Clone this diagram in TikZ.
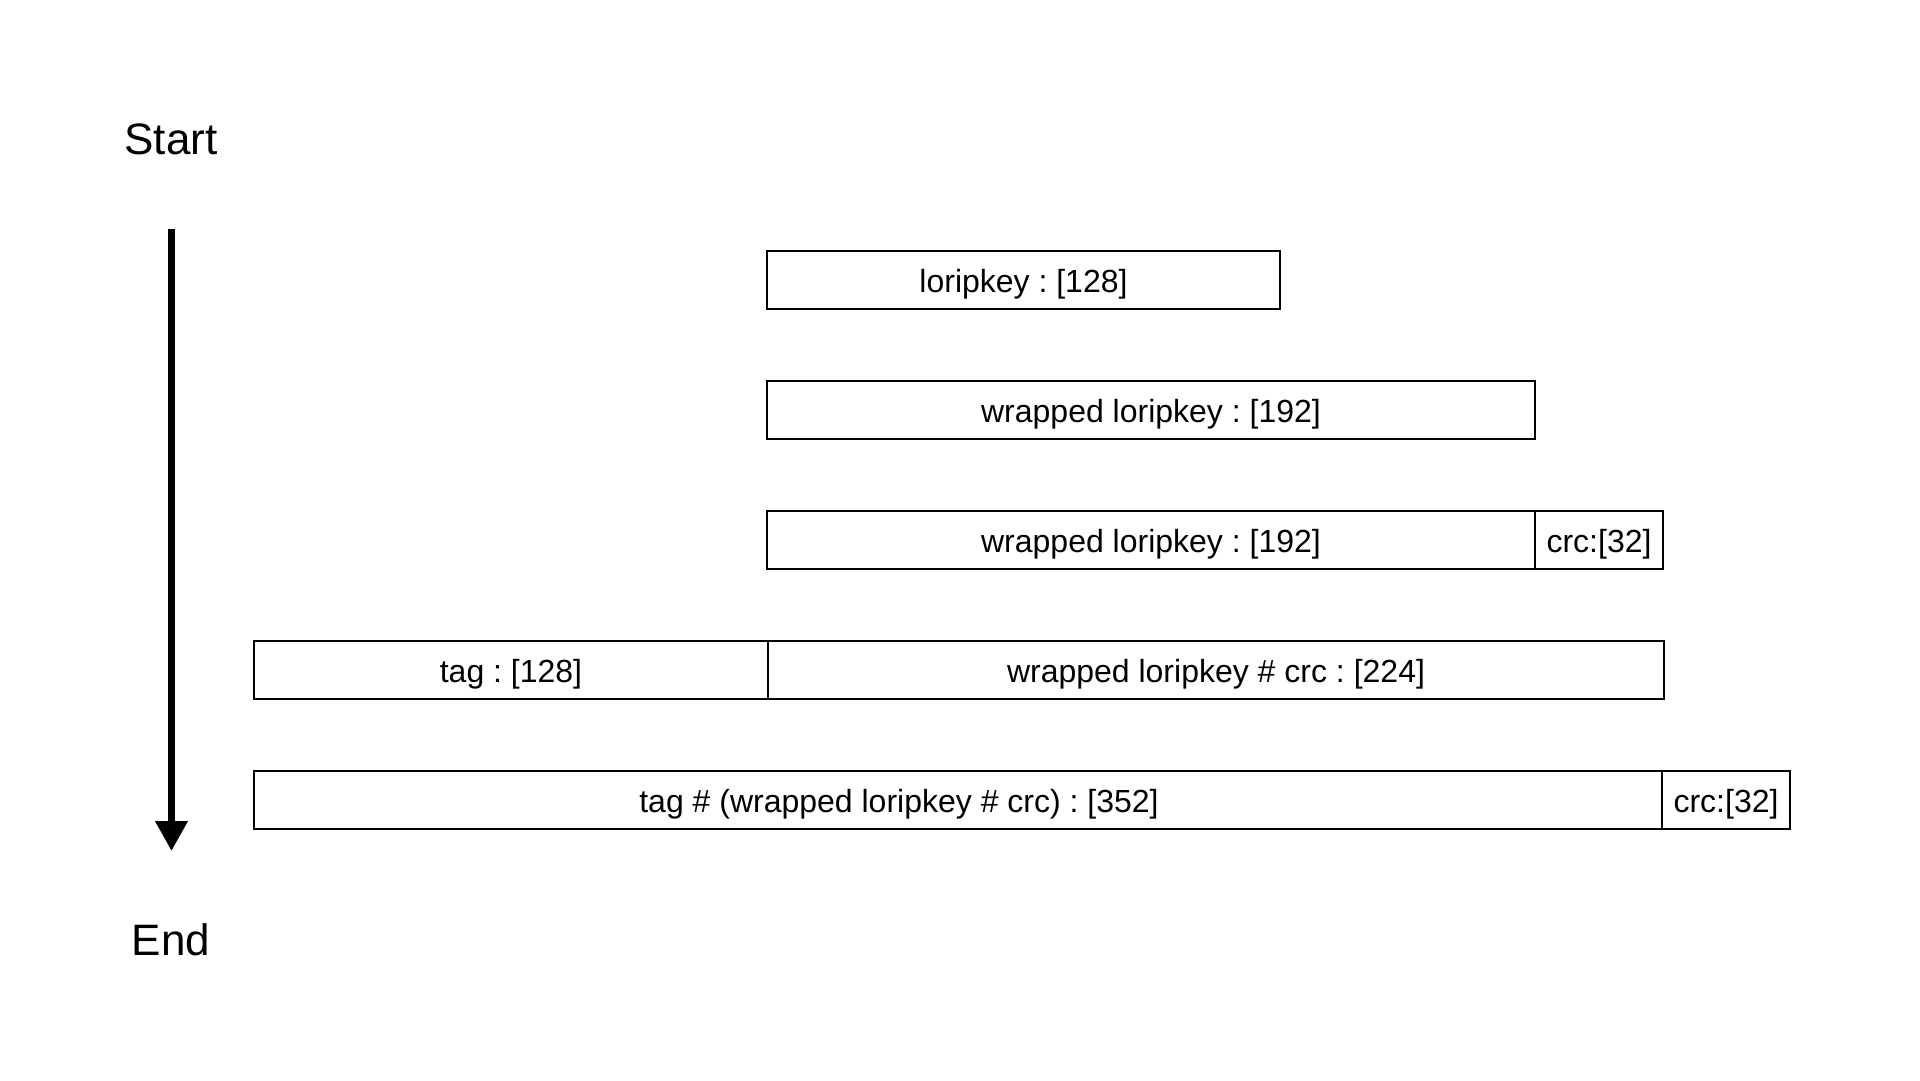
\documentclass[tikz,border=0pt]{standalone}
\usepackage{fontspec}
\setmainfont{Liberation Sans}
\usetikzlibrary{arrows.meta}
\frenchspacing
\begin{document}
\begin{tikzpicture}[x=1pt,y=-1pt,
  field/.style={draw=black, line width=1.6pt, fill=white, inner sep=0pt,
    minimum height=58pt, text height=28pt, text depth=4pt,
    font=\fontsize{32}{38}\selectfont\frenchspacing},
  biglabel/.style={anchor=base, inner sep=0pt, font=\fontsize{44}{52}\selectfont},
  timeline/.style={line width=7pt, -{Triangle[length=30pt,width=31pt]}}]
\useasboundingbox[fill=white] (0,0) rectangle (1920,1080);
% labels
\node[biglabel] (start) at (171,154) {Start};
\node[biglabel] (end) at (171,955) {End};
\coordinate (tA) at (171.5,229);
\coordinate (tB) at (171.5,851);
\draw[timeline] (tA) -- (tB);
% row 1
\node[field, minimum width=513pt] (r1) at (1023.5,280) {loripkey : [128]};
% row 2
\node[field, minimum width=768pt] (r2) at (1151,410) {wrapped loripkey : [192]};
% row 3
\node[field, minimum width=768pt] (r3a) at (1151,540) {wrapped loripkey : [192]};
\node[field, minimum width=128pt] (r3b) at (1599,540) {crc:[32]};
% row 4
\node[field, minimum width=514pt] (r4a) at (511,670) {tag : [128]};
\node[field, minimum width=896pt] (r4b) at (1216,670) {wrapped loripkey \# crc : [224]};
% row 5
\node[field, minimum width=1408pt] (r5a) at (958,800) {tag \# (wrapped loripkey \# crc) : [352]\rule{118pt}{0pt}};
\node[field, minimum width=128pt] (r5b) at (1726,800) {crc:[32]};
\end{tikzpicture}
\end{document}
